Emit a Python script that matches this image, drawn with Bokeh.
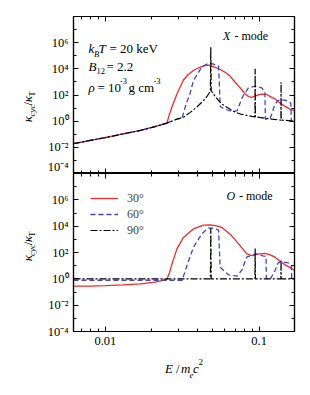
import math
from bokeh.plotting import figure
from bokeh.models import (Range1d, LogAxis, FixedTicker, CustomJSTickFormatter,
                          Label, Legend, LegendItem)
from bokeh.layouts import column, row
from bokeh.embed import file_html
from bokeh.resources import INLINE

# ---------------- data ----------------
# photon energy E / m_e c^2 and kappa_cyc / kappa_T
# X - mode
x30_E = [0.0062, 0.008, 0.010, 0.013, 0.0169, 0.021, 0.0251, 0.026, 0.0271, 0.0292,
         0.0322, 0.0345, 0.0374, 0.0405, 0.0435, 0.047, 0.0518, 0.0558, 0.0601, 0.0647,
         0.0699, 0.0733, 0.0775, 0.0812, 0.0853, 0.0897, 0.095, 0.100, 0.106, 0.112,
         0.121, 0.127, 0.137, 0.147, 0.159, 0.170]
x30_k = [1.9e-2, 3.4e-2, 5.6e-2, 1.05e-1, 1.95e-1, 3.8e-1, 7.1e-1, 2.8, 1.2e1, 1.2e2,
         1.4e3, 3.5e3, 7.4e3, 1.2e4, 1.66e4, 1.9e4, 1.3e4, 8.9e3, 5.5e3, 2.8e3,
         9.5e2, 5.0e2, 2.4e2, 1.2e2, 7.6e1, 6.6e1, 8.5e1, 1.05e2, 1.15e2, 1.1e2,
         6.6e1, 5.0e1, 2.4e1, 1.4e1, 8.3, 6.3]

x60_E = [0.0062, 0.008, 0.010, 0.013, 0.0169, 0.021, 0.0251, 0.028, 0.0316, 0.0335,
         0.0355, 0.0374, 0.0424, 0.0465, 0.050, 0.0545, 0.0553, 0.0558, 0.0633, 0.068,
         0.072, 0.0778, 0.0853, 0.0943, 0.104, 0.109, 0.1095, 0.110, 0.118, 0.127,
         0.133, 0.145, 0.157, 0.161, 0.162, 0.170]
x60_k = [1.9e-2, 3.4e-2, 5.6e-2, 1.05e-1, 1.95e-1, 3.8e-1, 7.1e-1, 1.2, 1.9, 2.0e1,
         1.26e2, 1.26e3, 1.4e4, 2.5e4, 2.4e4, 1.6e4, 3.2e2, 1.26e1, 6.5, 5.6,
         6.3, 6.8e1, 3.5e2, 4.8e2, 3.5e2, 1.8e2, 1.6e1, 1.4, 1.6, 2.0e1,
         3.8e1, 4.2e1, 3.2e1, 2.2e1, 1.05, 1.0]

x90_E = [0.0062, 0.008, 0.010, 0.013, 0.0169, 0.021, 0.0251, 0.028, 0.0322, 0.0355,
         0.0394, 0.0446, 0.0472, 0.0482, 0.0485, 0.0488, 0.050, 0.052, 0.057, 0.063,
         0.068, 0.0757, 0.0897, 0.094, 0.0943, 0.0946, 0.109, 0.121, 0.133, 0.1387,
         0.139, 0.1393, 0.163, 0.170]
x90_k = [1.9e-2, 3.4e-2, 5.6e-2, 1.05e-1, 1.95e-1, 3.8e-1, 7.1e-1, 1.2, 2.0, 4.5,
         1.2e1, 5.1e1, 1.3e2, 2.2e2, 4.5e5, 2.1e2, 1.4e2, 7.1e1, 2.1e1, 1.0e1,
         5.6, 3.5, 2.3, 2.1, 1.0e4, 2.1, 1.7, 1.45, 1.26, 1.2,
         9.5e2, 1.2, 1.05, 1.0]

# O - mode
o30_E = [0.0062, 0.008, 0.010, 0.013, 0.0169, 0.021, 0.0251, 0.0262, 0.0271, 0.0292,
         0.0322, 0.0374, 0.0435, 0.0479, 0.052, 0.057, 0.066, 0.0752, 0.0832, 0.0897,
         0.098, 0.109, 0.118, 0.127, 0.137, 0.147, 0.159, 0.170]
o30_k = [2.8e-1, 2.8e-1, 3.0e-1, 3.5e-1, 4.2e-1, 5.6e-1, 8.9e-1, 3.2, 1.35e1, 1.9e2,
         1.4e3, 6.2e3, 1.2e4, 1.26e4, 1.1e4, 8.1e3, 2.0e3, 3.3e2, 7.8e1, 5.8e1,
         7.6e1, 8.7e1, 6.6e1, 4.4e1, 2.2e1, 1.2e1, 7.1, 4.3]

o60_E = [0.0062, 0.0316, 0.0342, 0.0374, 0.0424, 0.0465, 0.050, 0.0545, 0.0553, 0.0558,
         0.0633, 0.072, 0.0775, 0.083, 0.0897, 0.0965, 0.106, 0.111, 0.1115, 0.118,
         0.127, 0.133, 0.140, 0.155, 0.162, 0.163, 0.170]
o60_k = [0.78, 0.78, 1.35e1, 2.5e2, 2.6e3, 7.1e3, 7.1e3, 5.0e3, 1.0e2, 7.6,
         2.0, 1.6, 5.0, 4.4e1, 6.3e1, 7.9e1, 5.6e1, 5.0e1, 1.1, 0.89,
         4.3, 1.6e1, 2.0e1, 1.6e1, 1.1e1, 1.0, 1.0]

o90_E = [0.0062, 0.0482, 0.0485, 0.0488, 0.094, 0.0943, 0.0946, 0.1387, 0.139, 0.1393, 0.170]
o90_k = [1.0, 1.0, 7.1e3, 1.0, 1.0, 2.0e2, 1.0, 1.0, 2.5e1, 1.0, 1.0]

series_labels = ["30°", "60°", "90°"]

x_ticks = [0.01, 0.1]
x_tick_labels = ["0.01", "0.1"]
x_minor = [0.006, 0.007, 0.008, 0.009, 0.02, 0.03, 0.04, 0.05, 0.06, 0.07, 0.08, 0.09, 0.2]
y_ticks = [1e-4, 1e-2, 1.0, 1e2, 1e4, 1e6]
y_tick_labels = ["10⁻⁴", "10⁻²", "10⁰", "10²", "10⁴", "10⁶"]
y_minor = [1e-3, 1e-1, 1e1, 1e3, 1e5, 1e7]

# ---------------- layout / styling ----------------
FONT = "Liberation Serif"
RED, BLUE, BLACK = "#f02a2a", "#4343c4", "#000000"
X_START, X_END = 0.0062, 0.17
Y_START, Y_END = 1e-4, 1e8
STRIP_W = 40            # width of the strip that holds the y titles
FRAME_L = 73            # page x of the frames' left edge
TOP_B, BOT_B = 173, 331  # page y of the panel boundary and of the bottom frame edge
BOT_BORDER = 24
XL_TOP, XL_BOT = BOT_B + BOT_BORDER, 381

FMT = """
for (let i = 0; i < tv.length; i++) {
  if (Math.abs(Math.log10(tick) - Math.log10(tv[i])) < 1e-6) return tl[i];
}
return "";
"""


def style_axis(ax, ticks, labels, minor, show):
    ax.ticker = FixedTicker(ticks=ticks, minor_ticks=minor)
    ax.formatter = CustomJSTickFormatter(args=dict(tv=ticks, tl=labels), code=FMT)
    ax.axis_line_color = "black"
    ax.axis_line_width = 1.2
    ax.major_tick_in = 5
    ax.major_tick_out = 0
    ax.minor_tick_in = 3
    ax.minor_tick_out = 0
    ax.major_tick_line_color = "black"
    ax.minor_tick_line_color = "black"
    if show:
        ax.major_label_text_font = FONT
        ax.major_label_text_font_size = "12.5px"
        ax.major_label_text_color = "black"
        ax.major_label_standoff = 5
    else:
        ax.major_label_text_font_size = "0px"
        ax.major_label_text_color = None
        ax.major_label_standoff = 0


def make_fig(height, top, bottom, show_x):
    p = figure(width=302 - STRIP_W, height=height, x_axis_type="log", y_axis_type="log",
               x_range=Range1d(X_START, X_END), y_range=Range1d(Y_START, Y_END),
               output_backend="svg", toolbar_location=None,
               min_border_left=FRAME_L - STRIP_W, min_border_right=8,
               min_border_top=top, min_border_bottom=bottom)
    p.add_layout(LogAxis(), "right")
    p.add_layout(LogAxis(), "above")
    p.grid.visible = False
    p.outline_line_color = "black"
    p.outline_line_width = 1.2
    style_axis(p.below[0], x_ticks, x_tick_labels, x_minor, show_x)
    style_axis(p.above[0], x_ticks, x_tick_labels, x_minor, False)
    style_axis(p.left[0], y_ticks, y_tick_labels, y_minor, True)
    style_axis(p.right[0], y_ticks, y_tick_labels, y_minor, False)
    return p


def text_strip(x0, x1, y0, y1):
    """A bare figure whose frame maps page pixels; it only holds text."""
    s = figure(width=x1 - x0, height=y1 - y0, x_range=Range1d(x0, x1), y_range=Range1d(y1, y0),
               output_backend="svg", toolbar_location=None,
               x_axis_location=None, y_axis_location=None, min_border=0)
    s.grid.visible = False
    s.outline_line_color = None
    return s


def put_screen(p, text, px, py, frame_bottom, size, style="normal"):
    # screen units: relative to the frame's bottom-left corner, y upwards
    p.add_layout(Label(x=px - FRAME_L, y=frame_bottom - py, x_units="screen", y_units="screen",
                       text=text, text_font=FONT, text_font_size=f"{size}px",
                       text_font_style=style, text_align="left", text_baseline="middle",
                       text_color="black"))


def put(s, text, px, py, size, style="normal", align="left", angle=0.0):
    s.add_layout(Label(x=px, y=py, text=text, text_font=FONT, text_font_size=f"{size}px",
                       text_font_style=style, text_align=align, text_baseline="middle",
                       text_color="black", angle=angle))


def ytitle(s, c):
    a = math.pi / 2
    put(s, "κ", 27, c + 18.5, 13, "italic", "center", a)
    put(s, "cyc", 31.5, c + 9, 9, "italic", "center", a)
    put(s, "/", 27, c + 1.5, 13, "normal", "center", a)
    put(s, "κ", 27, c - 3.5, 13, "italic", "center", a)
    put(s, "T", 31.5, c - 9, 9, "normal", "center", a)


# ---------------- top panel (X - mode) ----------------
p1 = make_fig(TOP_B, 16, 0, False)
p1.line(x30_E, x30_k, line_color=RED, line_width=1.3)
p1.line(x60_E, x60_k, line_color=BLUE, line_width=1.3, line_dash="5 3")
p1.line(x90_E, x90_k, line_color=BLACK, line_width=1.2, line_dash="7 2 2 2")

for args in [("k", 88, 48, 13, "italic"), ("B", 93.5, 53, 8.5, "italic"),
             ("T", 98, 48, 13, "italic"), ("= 20 keV", 109, 48, 13),
             ("B", 88, 65.5, 13, "italic"), ("12", 96, 70.5, 8.5), ("= 2.2", 106, 65.5, 13),
             ("ρ", 88, 86.5, 13, "italic"), ("= 10", 97, 86.5, 13), ("-3", 119.5, 80, 8.5),
             ("g cm", 128, 86.5, 13), ("-3", 153, 80, 8.5),
             ("X", 222.5, 35, 12, "italic"), ("- mode", 234, 35, 12)]:
    put_screen(p1, args[0], args[1], args[2], TOP_B, *args[3:])

yl1 = text_strip(0, STRIP_W, 0, TOP_B)
ytitle(yl1, 94.5)

# ---------------- bottom panel (O - mode) ----------------
p2 = make_fig(BOT_B - TOP_B + BOT_BORDER, 0, BOT_BORDER, True)
r30 = p2.line(o30_E, o30_k, line_color=RED, line_width=1.3)
r60 = p2.line(o60_E, o60_k, line_color=BLUE, line_width=1.3, line_dash="5 3")
r90 = p2.line(o90_E, o90_k, line_color=BLACK, line_width=1.2, line_dash="7 2 2 2")

legend = Legend(items=[LegendItem(label=series_labels[0], renderers=[r30]),
                       LegendItem(label=series_labels[1], renderers=[r60]),
                       LegendItem(label=series_labels[2], renderers=[r90])],
                location="top_left", margin=17, padding=0, spacing=0,
                glyph_width=28, glyph_height=16, label_height=16, label_standoff=9,
                label_text_font=FONT, label_text_font_size="12px",
                border_line_color=None, background_fill_alpha=0)
p2.add_layout(legend)

put_screen(p2, "O", 226, 195, BOT_B, 12, "italic")
put_screen(p2, "- mode", 238.5, 195, BOT_B, 12)

yl2 = text_strip(0, STRIP_W, TOP_B, BOT_B + BOT_BORDER)
ytitle(yl2, 252)

xl = text_strip(0, 302, XL_TOP, XL_BOT)
put(xl, "E", 164.5, 368, 13, "italic")
put(xl, "/", 175.5, 368, 13)
put(xl, "m", 180.5, 368, 13, "italic")
put(xl, "e", 189, 374.5, 9, "italic")
put(xl, "c", 192.5, 368, 13, "italic")
put(xl, "2", 198, 361, 9)

layout = column(row(yl1, p1), row(yl2, p2), xl)
open("out.html", "w").write(file_html(layout, INLINE))
